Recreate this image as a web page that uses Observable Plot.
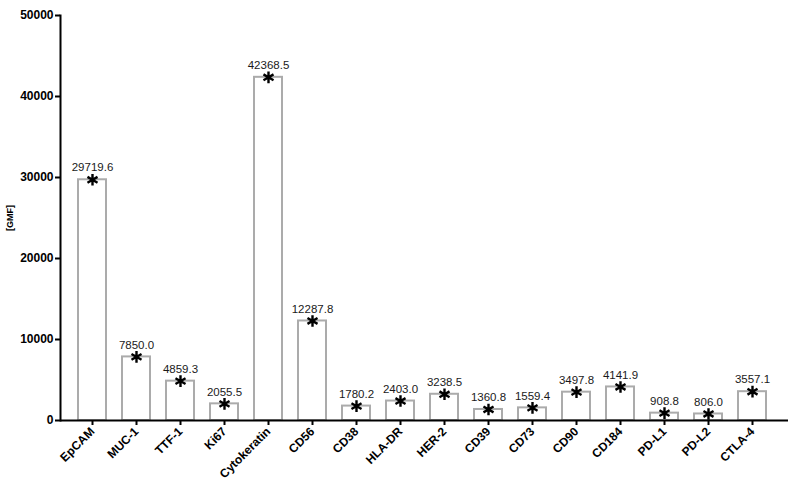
<!DOCTYPE html>
<html>
<head>
<meta charset="utf-8">
<script src="https://cdn.jsdelivr.net/npm/d3@7"></script>
<script src="https://cdn.jsdelivr.net/npm/@observablehq/plot@0.6"></script>
<style>
  html, body { margin: 0; padding: 0; background: #fff; }
</style>
</head>
<body>
<div id="chart"></div>
<script>
// Marker names and geometric mean fluorescence values
const markers = ["EpCAM", "MUC-1", "TTF-1", "Ki67", "Cytokeratin", "CD56", "CD38", "HLA-DR",
  "HER-2", "CD39", "CD73", "CD90", "CD184", "PD-L1", "PD-L2", "CTLA-4"];
const gmf = [29719.6, 7850.0, 4859.3, 2055.5, 42368.5, 12287.8, 1780.2, 2403.0,
  3238.5, 1360.8, 1559.4, 3497.8, 4141.9, 908.8, 806.0, 3557.1];
const yTicks = [0, 10000, 20000, 30000, 40000, 50000];

const data = markers.map((m, i) => ({marker: m, value: gmf[i]}));

const chart = Plot.plot({
  width: 792,
  height: 487,
  marginLeft: 60,
  marginRight: 4,
  marginTop: 15,
  marginBottom: 67,
  style: {fontFamily: "Arial, 'Liberation Sans', sans-serif", color: "black", background: "white"},
  x: {domain: markers, paddingInner: 0.363, paddingOuter: 0.38, align: 0.46},
  y: {domain: [0, 50000]},
  marks: [
    Plot.barY(data, {x: "marker", y: "value", fill: "white", stroke: "#ababab", strokeWidth: 2}),
    Plot.dot(data, {x: "marker", y: "value", symbol: "asterisk", r: 5.5, stroke: "black", strokeWidth: 2.4}),
    Plot.text(data, {x: "marker", y: "value", text: d => d.value.toFixed(1), dy: -12,
      fontSize: 11.5, fill: "#1a1a1a"}),
    Plot.axisY({ticks: yTicks, tickFormat: d => String(d), tickSize: 5, tickPadding: 2,
      fontSize: 12, fontWeight: "bold", stroke: "black", strokeWidth: 2, label: null}),
    Plot.axisY({ticks: [], label: "[GMF]", labelAnchor: "center", labelArrow: "none",
      labelOffset: 54, fontSize: 9, fontWeight: "bold"}),
    Plot.axisX({tickRotate: -45, tickSize: 5, tickPadding: 4, fontSize: 12, fontWeight: "bold",
      stroke: "black", strokeWidth: 2, label: null}),
    Plot.frame({anchor: "left", stroke: "black", strokeWidth: 2}),
    Plot.ruleY([0], {stroke: "black", strokeWidth: 2})
  ]
});
document.getElementById("chart").appendChild(chart);
</script>
</body>
</html>
